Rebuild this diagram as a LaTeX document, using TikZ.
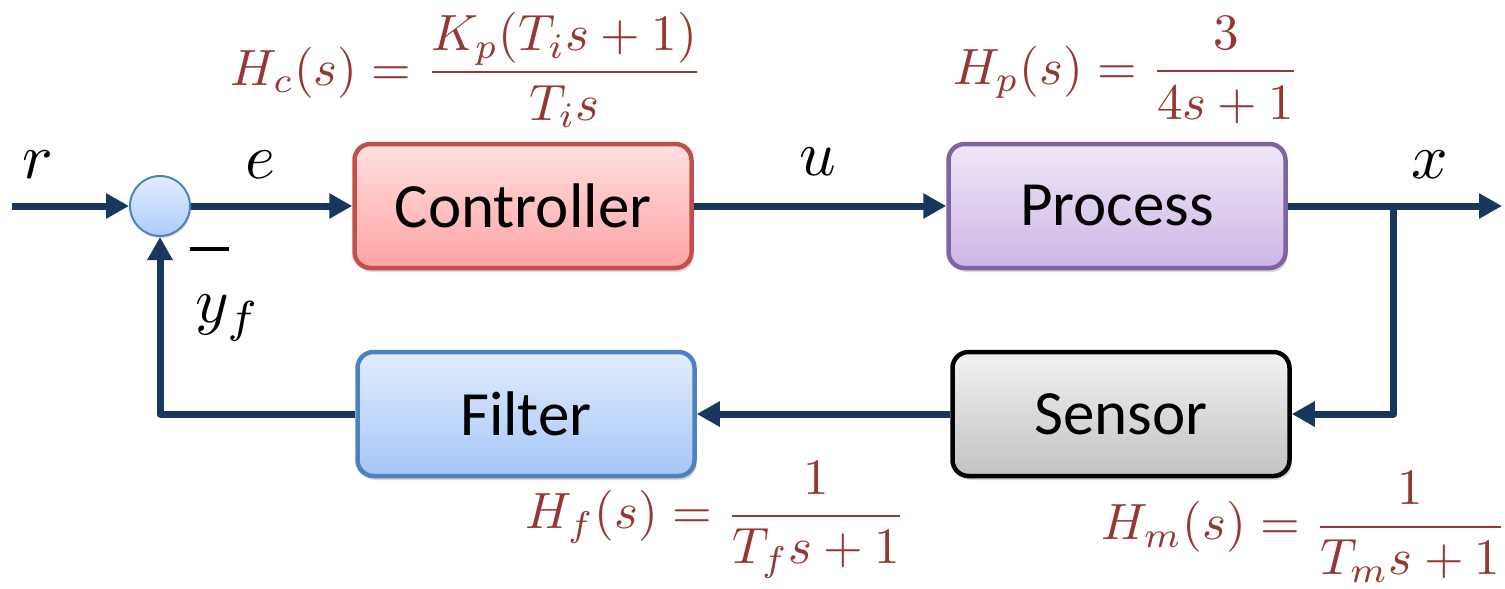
\documentclass[tikz,border=0pt]{standalone}
\usepackage{amsmath}
\usepackage{graphicx}
\usepackage{fontspec}
\setmainfont{Carlito}
\usetikzlibrary{arrows.meta,shadows}
\definecolor{sigc}{HTML}{17375E}
\definecolor{tfred}{HTML}{953735}
\definecolor{redb}{HTML}{C0504D}
\definecolor{purb}{HTML}{8064A2}
\definecolor{blub}{HTML}{4F81BD}
\definecolor{ctop}{HTML}{FFE0E0}
\definecolor{cbot}{HTML}{FFA3A3}
\definecolor{ptop}{HTML}{EFE8F7}
\definecolor{pbot}{HTML}{CDB5E6}
\definecolor{stop}{HTML}{F2F2F2}
\definecolor{sbot}{HTML}{C2C2C2}
\definecolor{ftop}{HTML}{E2EDFD}
\definecolor{fbot}{HTML}{A4C6F8}
\newcommand{\lblm}[1]{\scalebox{6.4}{$#1$}}
\newcommand{\tfm}[1]{\scalebox{5.1}{$#1$}}
\begin{document}
\begin{tikzpicture}[x=1pt,y=-1pt,
  blk/.style={rounded corners=16pt, line width=4.5pt, minimum width=337pt, minimum height=124pt,
    inner sep=0pt, font=\fontsize{63}{70}\selectfont,
    drop shadow={opacity=0.3, shadow xshift=2pt, shadow yshift=-4pt}},
  sig/.style={line width=7pt, draw=sigc, line join=round},
  arr/.style={-{Triangle[length=23pt,width=24pt]}},
  lbl/.style={font=\fontsize{10}{12}\selectfont, inner sep=0pt},
  tf/.style={text=tfred, font=\fontsize{10}{12}\selectfont, inner sep=0pt}]
\useasboundingbox (0,0) rectangle (1505,589);
% blocks
\node[blk, draw=redb, top color=ctop, bottom color=cbot] (ctrl) at (523,206) {Controller};
\node[blk, draw=purb, top color=ptop, bottom color=pbot] (proc) at (1117,206) {Process};
\node[blk, draw=black, top color=stop, bottom color=sbot] (sens) at (1121,414) {Sensor};
\node[blk, draw=blub, top color=ftop, bottom color=fbot] (filt) at (526,414) {Filter};
\node[circle, draw=blub, line width=2pt, minimum size=60pt, inner sep=0pt,
  top color=ftop, bottom color=fbot!90!white,
  drop shadow={opacity=0.3, shadow xshift=1pt, shadow yshift=-2pt}] (sum) at (160,206) {};
% coordinates
\coordinate (in) at (12,206);
\coordinate (out) at (1502,206);
\coordinate (branch) at (1393,206);
% connectors
\draw[sig,arr] (in) -- (sum.west);
\draw[sig,arr] (sum.east) -- (ctrl.west);
\draw[sig,arr] (ctrl.east) -- (proc.west);
\draw[sig,arr] (proc.east) -- (out);
\draw[sig,arr] (branch) |- (sens.east);
\draw[sig,arr] (sens.west) -- (filt.east);
\draw[sig,arr] (filt.west) -| (sum.south);
% labels
\node[lbl] (lr) at (38,165) {\lblm{r}};
\node[lbl] (le) at (260,165) {\lblm{e}};
\node[lbl] (lu) at (818,162) {\lblm{u}};
\node[lbl] (lx) at (1430,165) {\lblm{x}};
\node[lbl] (ly) at (228,318) {\lblm{y_f}};
\node[inner sep=0pt] (minus) at (209,249) {\rule{39pt}{4pt}};
% transfer functions
\node[tf] (hc) at (467,70) {\tfm{H_c(s)=\dfrac{K_p(T_i s+1)}{T_i s}}};
\node[tf] (hp) at (1127,70) {\tfm{H_p(s)=\dfrac{3}{4s+1}}};
\node[tf] (hf) at (716,520) {\tfm{H_f(s)=\dfrac{1}{T_f s+1}}};
\node[tf] (hm) at (1304,527) {\tfm{H_m(s)=\dfrac{1}{T_m s+1}}};
\end{tikzpicture}
\end{document}
